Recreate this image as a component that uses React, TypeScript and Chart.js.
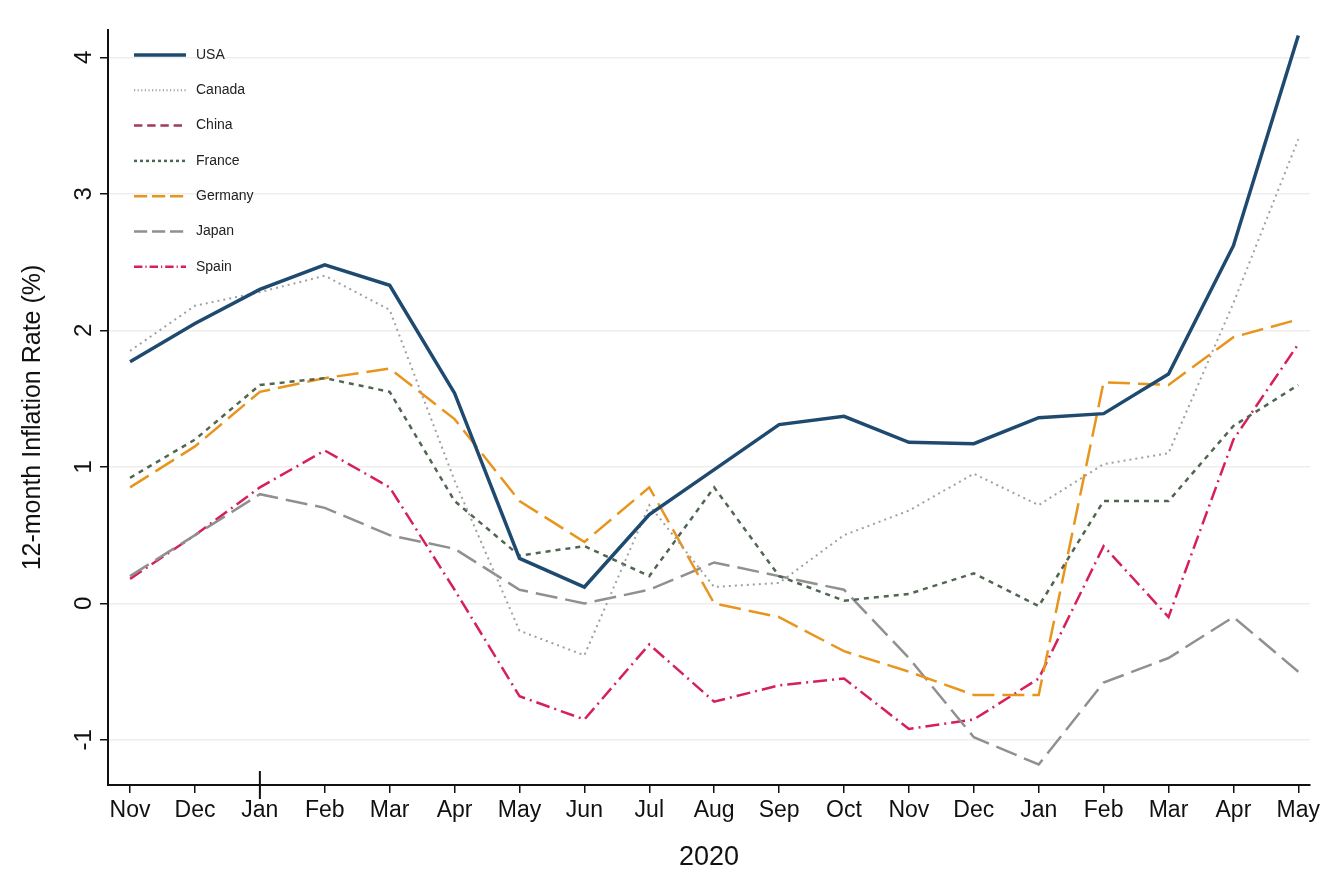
import {useEffect, useRef} from "react";
import {Chart, registerables} from "chart.js";

Chart.register(...registerables);

const months = ["Nov", "Dec", "Jan", "Feb", "Mar", "Apr", "May", "Jun", "Jul", "Aug", "Sep", "Oct", "Nov", "Dec", "Jan", "Feb", "Mar", "Apr", "May"];
const yTicks = [-1, 0, 1, 2, 3, 4];

const usa = [1.77, 2.05, 2.3, 2.48, 2.33, 1.54, 0.33, 0.12, 0.65, 0.98, 1.31, 1.37, 1.18, 1.17, 1.36, 1.39, 1.68, 2.62, 4.16];
const canada = [1.85, 2.18, 2.28, 2.4, 2.15, 0.9, -0.2, -0.38, 0.72, 0.12, 0.15, 0.5, 0.68, 0.95, 0.72, 1.02, 1.1, 2.2, 3.4];
const china: (number | null)[] = [];
const france = [0.92, 1.2, 1.6, 1.65, 1.55, 0.75, 0.35, 0.42, 0.2, 0.85, 0.2, 0.02, 0.07, 0.22, -0.02, 0.75, 0.75, 1.3, 1.6];
const germany = [0.85, 1.15, 1.55, 1.65, 1.72, 1.35, 0.75, 0.45, 0.85, 0.0, -0.1, -0.35, -0.5, -0.67, -0.67, 1.62, 1.6, 1.95, 2.08];
const japan = [0.2, 0.5, 0.8, 0.7, 0.5, 0.4, 0.1, 0.0, 0.1, 0.3, 0.2, 0.1, -0.4, -0.98, -1.18, -0.58, -0.4, -0.1, -0.5];
const spain = [0.18, 0.5, 0.85, 1.12, 0.85, 0.1, -0.68, -0.85, -0.3, -0.72, -0.6, -0.55, -0.92, -0.85, -0.55, 0.42, -0.1, 1.2, 1.9];

const series = [
  {label: "USA", data: usa, color: "#1f4a70", width: 3.5, dash: [] as number[]},
  {label: "Canada", data: canada, color: "#a0a0a0", width: 2, dash: [2, 4]},
  {label: "China", data: china, color: "#a03a60", width: 2.5, dash: [14, 8]},
  {label: "France", data: france, color: "#4f6650", width: 2.5, dash: [5, 5]},
  {label: "Germany", data: germany, color: "#e8951e", width: 2.5, dash: [22, 8]},
  {label: "Japan", data: japan, color: "#909090", width: 2.5, dash: [22, 8]},
  {label: "Spain", data: spain, color: "#d6205a", width: 2.5, dash: [14, 5, 2, 5]},
];

const FONT = "'Liberation Sans', Arial, sans-serif";

const extras = {
  id: "extras",
  afterDraw(chart: any) {
    const ctx = chart.ctx;
    const y = chart.scales.y;
    const x = chart.scales.x;
    ctx.save();
    // rotated y tick labels
    ctx.fillStyle = "#111";
    ctx.font = `24px ${FONT}`;
    ctx.textAlign = "center";
    ctx.textBaseline = "bottom";
    yTicks.forEach((v) => {
      const py = y.getPixelForValue(v);
      ctx.save();
      ctx.translate(y.right - 12, py);
      ctx.rotate(-Math.PI / 2);
      ctx.fillText(String(v), 0, 0);
      ctx.restore();
    });
    // y title
    ctx.save();
    ctx.translate(46, (chart.chartArea.top + chart.chartArea.bottom) / 2 + 10);
    ctx.rotate(-Math.PI / 2);
    ctx.font = `25px ${FONT}`;
    ctx.fillText("12-month Inflation Rate (%)", 0, 0);
    ctx.restore();
    // longer Jan tick
    ctx.strokeStyle = "#111";
    ctx.lineWidth = 2;
    ctx.setLineDash([]);
    const jx = x.getPixelForValue(2);
    ctx.beginPath();
    ctx.moveTo(jx, x.top - 14);
    ctx.lineTo(jx, x.top + 14);
    ctx.stroke();
    // legend
    const lx = chart.chartArea.left + 26;
    let ly = 55;
    ctx.font = `14px ${FONT}`;
    ctx.textAlign = "left";
    ctx.textBaseline = "middle";
    series.forEach((s) => {
      ctx.strokeStyle = s.color;
      ctx.lineWidth = s.width;
      ctx.setLineDash(s.dash.map((d) => d * 0.6));
      ctx.beginPath();
      ctx.moveTo(lx, ly);
      ctx.lineTo(lx + 52, ly);
      ctx.stroke();
      ctx.fillStyle = "#222";
      ctx.fillText(s.label, lx + 62, ly);
      ly += 35.3;
    });
    ctx.restore();
  },
};

export default function App() {
  const canvasRef = useRef<HTMLCanvasElement>(null);

  useEffect(() => {
    if (!canvasRef.current) return;
    const chart = new Chart(canvasRef.current, {
      type: "line",
      data: {
        datasets: series.map((s) => ({
          label: s.label,
          data: s.data.map((v, i) => ({x: i, y: v})),
          borderColor: s.color,
          backgroundColor: s.color,
          borderWidth: s.width,
          borderDash: s.dash,
          pointRadius: 0,
          tension: 0,
        })),
      },
      options: {
        animation: false,
        responsive: true,
        maintainAspectRatio: false,
        layout: {padding: {top: 30, right: 20}},
        plugins: {legend: {display: false}, tooltip: {enabled: false}},
        scales: {
          x: {
            type: "linear",
            min: -0.34,
            max: 18.18,
            afterFit: (s: any) => {
              s.height = 93;
            },
            afterBuildTicks: (s: any) => {
              s.ticks = months.map((_, i) => ({value: i}));
            },
            ticks: {
              callback: (v: any) => months[v as number] ?? "",
              color: "#111",
              font: {size: 23, family: FONT},
              maxRotation: 0,
              autoSkip: false,
              padding: 4,
            },
            grid: {drawOnChartArea: false, tickColor: "#111", tickLength: 8, lineWidth: 1.5},
            border: {color: "#111", width: 2},
            title: {display: true, text: "2020", color: "#111", font: {size: 27, family: FONT}, padding: {top: 0}},
          },
          y: {
            type: "linear",
            min: -1.33,
            max: 4.2,
            afterFit: (s: any) => {
              s.width = 108;
            },
            afterBuildTicks: (s: any) => {
              s.ticks = yTicks.map((v) => ({value: v}));
            },
            ticks: {display: false},
            grid: {color: "#eeeeee", lineWidth: 1.5, tickColor: "#111", tickLength: 8},
            border: {color: "#111", width: 2},
          },
        },
      },
      plugins: [extras],
    });
    return () => chart.destroy();
  }, []);

  return (
    <div style={{position: "fixed", left: 0, top: 0, width: 1330, height: 878, background: "#fff"}}>
      <canvas ref={canvasRef} />
    </div>
  );
}
